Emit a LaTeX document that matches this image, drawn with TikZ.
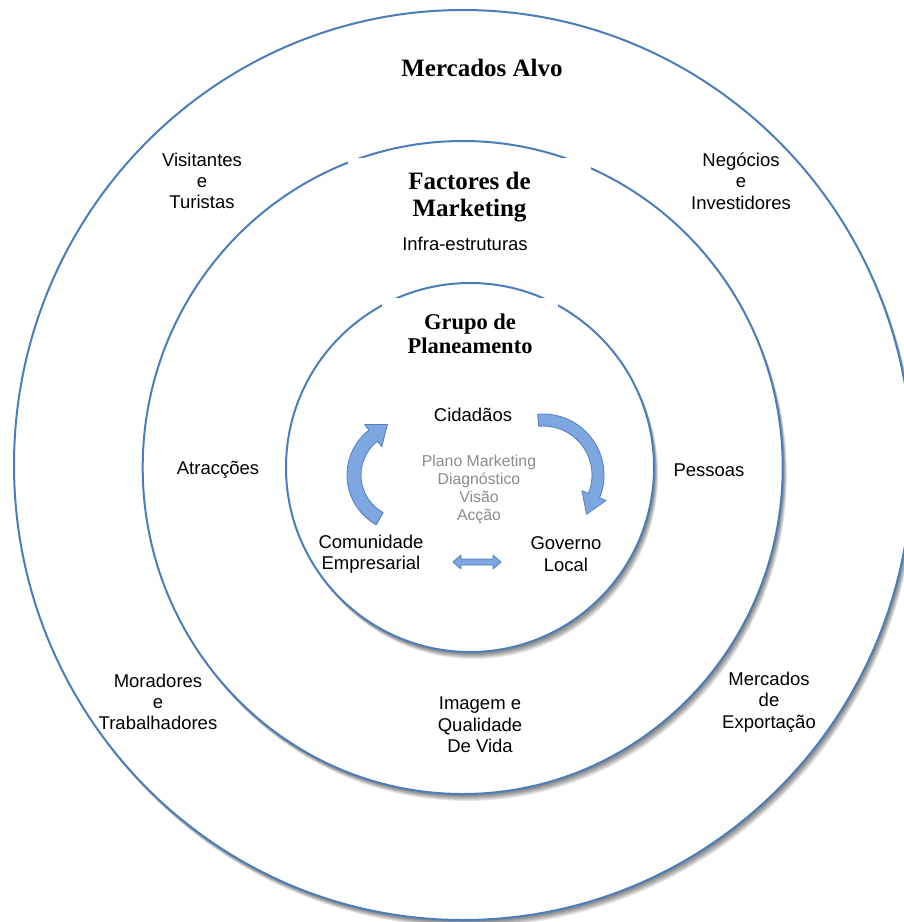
\documentclass[tikz,border=0pt]{standalone}
\usepackage{fontspec}
\setmainfont{Liberation Sans}
\newfontfamily\titlefont{Liberation Serif}
\usetikzlibrary{calc}
\definecolor{ringblue}{RGB}{74,126,187}
\definecolor{arrowfill}{RGB}{126,166,224}
\definecolor{arrowline}{RGB}{79,129,189}
\definecolor{softgray}{RGB}{140,140,140}
\begin{document}
\begin{tikzpicture}[x=1pt,y=-1pt,
  ring/.style={draw=ringblue, line width=2pt, fill=white},
  shade1/.style={fill=black, opacity=0.09},
  lbl/.style={align=center, inner sep=0pt, font=\fontsize{18.5}{21.3}\selectfont},
  ttl/.style={align=center, font=\titlefont\bfseries\fontsize{25}{27}\selectfont},
  ttlsmall/.style={align=center, font=\titlefont\bfseries\fontsize{22.5}{24}\selectfont},
  graytxt/.style={align=center, inner sep=0pt, text=softgray, font=\fontsize{15.8}{18}\selectfont},
  blockarrow/.style={fill=arrowfill, draw=arrowline, line width=0.8pt, line join=round}]
\useasboundingbox (0,0) rectangle (904,922);
\clip (0,0) rectangle (904,922);
\fill[white] (0,0) rectangle (904,922);

% outer ring
\foreach \k in {7,6,5,4,3,2} {\fill[shade1] (463+0.6*\k,465+\k) ellipse [x radius=449, y radius=455];}
\draw[ring] (463,465) ellipse [x radius=449, y radius=455];
% middle ring
\foreach \k in {7,6,5,4,3,2} {\fill[shade1] (462.7+0.6*\k,467.5+\k) ellipse [x radius=320, y radius=326.5];}
\draw[ring] (462.7,467.5) ellipse [x radius=320, y radius=326.5];
% inner ring
\foreach \k in {7,6,5,4,3,2} {\fill[shade1] (470+0.6*\k,467.5+\k) ellipse [x radius=184, y radius=184.5];}
\draw[ring] (470,467.5) ellipse [x radius=184, y radius=184.5];

% titles
\node[ttl] (mercados) at (482,68) {Mercados Alvo};
\node[ttl, fill=white, anchor=north, minimum width=243pt, inner xsep=0pt, inner ysep=14pt] (factores) at (469.5,158) {Factores de\\Marketing};
\node[ttlsmall, fill=white, anchor=north, minimum width=176pt, inner xsep=0pt, inner ysep=16pt] (grupo) at (470,298) {Grupo de\\Planeamento};

% outer labels
\node[lbl] (visit) at (202,181) {Visitantes\\e\\Turistas};
\node[lbl] (negoc) at (741,181) {Negócios\\e\\Investidores};
\node[lbl] (morad) at (158,702) {Moradores\\e\\Trabalhadores};
\node[lbl] (export) at (769,702) {Mercados\\de\\Exportação};

% middle labels
\node[lbl] (infra) at (465,244) {Infra-estruturas};
\node[lbl] (atrac) at (218,470) {Atracções};
\node[lbl] (pessoas) at (709,470) {Pessoas};
\node[lbl] (imagem) at (480,725) {Imagem e\\Qualidade\\De Vida};

% inner labels
\node[lbl] (cidadaos) at (473,415) {Cidadãos};
\node[lbl] (comunidade) at (371,554) {Comunidade\\Empresarial};
\node[lbl] (governo) at (566,554) {Governo\\Local};
\node[graytxt] (plano) at (479,489) {Plano Marketing\\Diagnóstico\\Visão\\Acção};

% curved arrows
\coordinate (cl) at (404,475);
\filldraw[blockarrow] ($(cl)+(119:57)$) arc[start angle=119, end angle=232, radius=57]
  -- ($(cl)+(232:64)$) -- ($(cl)+(232:50)+(322:18)$) -- ($(cl)+(232:36)$)
  -- ($(cl)+(232:43)$) arc[start angle=232, end angle=119, radius=43] -- cycle;
\coordinate (cr) at (543,475);
\filldraw[blockarrow] ($(cr)+(-95:61)$) arc[start angle=-95, end angle=22, radius=61]
  -- ($(cr)+(22:68)$) -- ($(cr)+(22:55)+(112:20)$) -- ($(cr)+(22:42)$)
  -- ($(cr)+(22:49)$) arc[start angle=22, end angle=-95, radius=49] -- cycle;

% double arrow between Comunidade and Governo
\coordinate (da) at ($(comunidade.east)!0.5!(governo.west)+(0,8)$);
\filldraw[blockarrow] ($(da)+(-24,0)$) -- ($(da)+(-16,-7)$) -- ($(da)+(-16,-3)$) -- ($(da)+(16,-3)$)
  -- ($(da)+(16,-7)$) -- ($(da)+(24,0)$) -- ($(da)+(16,7)$) -- ($(da)+(16,3)$)
  -- ($(da)+(-16,3)$) -- ($(da)+(-16,7)$) -- cycle;
\end{tikzpicture}
\end{document}
